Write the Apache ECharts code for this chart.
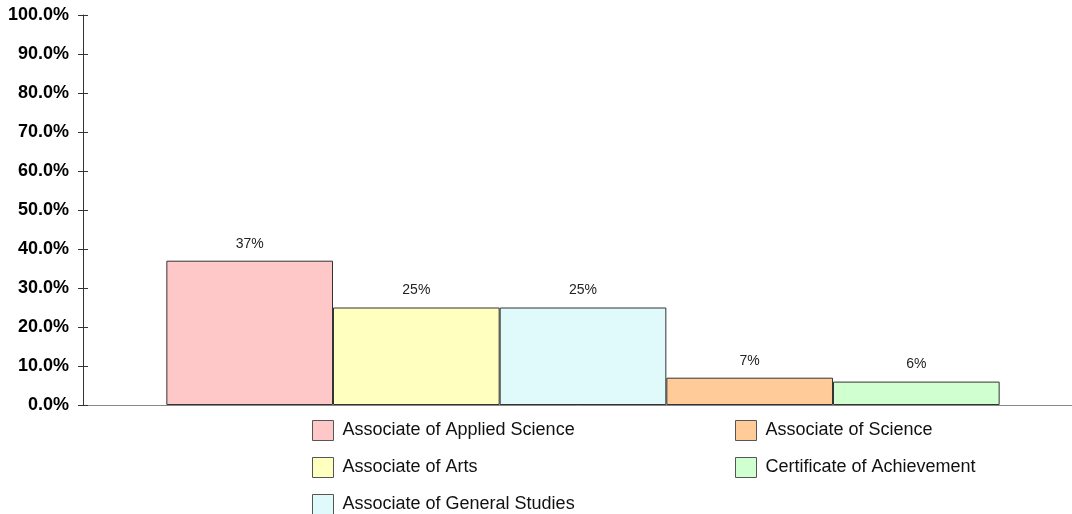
<!DOCTYPE html>
<html>
<head>
<meta charset="utf-8">
<script src="https://cdn.jsdelivr.net/npm/echarts@6/dist/echarts.min.js"></script>
<style>
  html, body { margin: 0; padding: 0; background: #fff; }
  #chart { width: 1072px; height: 514px; }
</style>
</head>
<body>
<div id="chart"></div>
<script>
// degree types and their share (%)
const degreeNames = [
  'Associate of Applied Science',
  'Associate of Arts',
  'Associate of General Studies',
  'Associate of Science',
  'Certificate of Achievement'
]
const degreeShares = [37, 25, 25, 7, 6]
const degreeColors = ['#FFC8C8', '#FFFFC0', '#E0FAFC', '#FFCC99', '#D0FFD0']
const yTicks = [0, 10, 20, 30, 40, 50, 60, 70, 80, 90, 100]

const chart = echarts.init(document.getElementById('chart'))

const series = degreeNames.map((name, i) => ({
  name: name,
  type: 'bar',
  data: [degreeShares[i]],
  barGap: 0,
  barCategoryGap: '16.67%',
  itemStyle: {
    color: degreeColors[i],
    borderColor: '#333',
    borderWidth: 1
  },
  label: {
    show: true,
    position: 'top',
    distance: 10,
    formatter: '{c}%',
    fontFamily: 'Liberation Sans',
    fontSize: 14,
    color: '#222'
  }
}))

const legendBase = {
  orient: 'vertical',
  top: 420,
  height: 120,
  padding: 0,
  itemWidth: 21,
  itemHeight: 20,
  itemGap: 16,
  icon: 'rect',
  selectedMode: false,
  itemStyle: { borderColor: '#555', borderWidth: 1 },
  textStyle: { fontFamily: 'Liberation Sans', fontSize: 18, color: '#111', padding: [0, 0, 0, 4] }
}

chart.setOption({
  animation: false,
  backgroundColor: '#fff',
  grid: { left: 83, top: 15, width: 1000, bottom: 109, outerBoundsMode: 'none' },
  legend: [
    Object.assign({}, legendBase, { left: 312, data: degreeNames.slice(0, 3) }),
    Object.assign({}, legendBase, { left: 735, data: degreeNames.slice(3) })
  ],
  xAxis: {
    type: 'category',
    data: [''],
    axisLine: { lineStyle: { color: '#888', width: 1 } },
    axisTick: { show: false },
    axisLabel: { show: false }
  },
  yAxis: [
    {
      type: 'value',
      min: yTicks[0],
      max: yTicks[yTicks.length - 1],
      interval: 10,
      splitLine: { show: false },
      axisLine: { show: true, lineStyle: { color: '#333' } },
      axisTick: { show: true, length: 5, lineStyle: { color: '#333' } },
      axisLabel: {
        margin: 14,
        formatter: v => v.toFixed(1) + '%',
        fontFamily: 'Liberation Sans',
        fontWeight: 'bold',
        fontSize: 18,
        color: '#000'
      }
    },
    {
      type: 'value',
      position: 'left',
      min: yTicks[0],
      max: yTicks[yTicks.length - 1],
      interval: 10,
      splitLine: { show: false },
      axisLine: { show: false },
      axisTick: { show: true, inside: true, length: 5, lineStyle: { color: '#333' } },
      axisLabel: { show: false }
    }
  ],
  series: series
})
</script>
</body>
</html>
